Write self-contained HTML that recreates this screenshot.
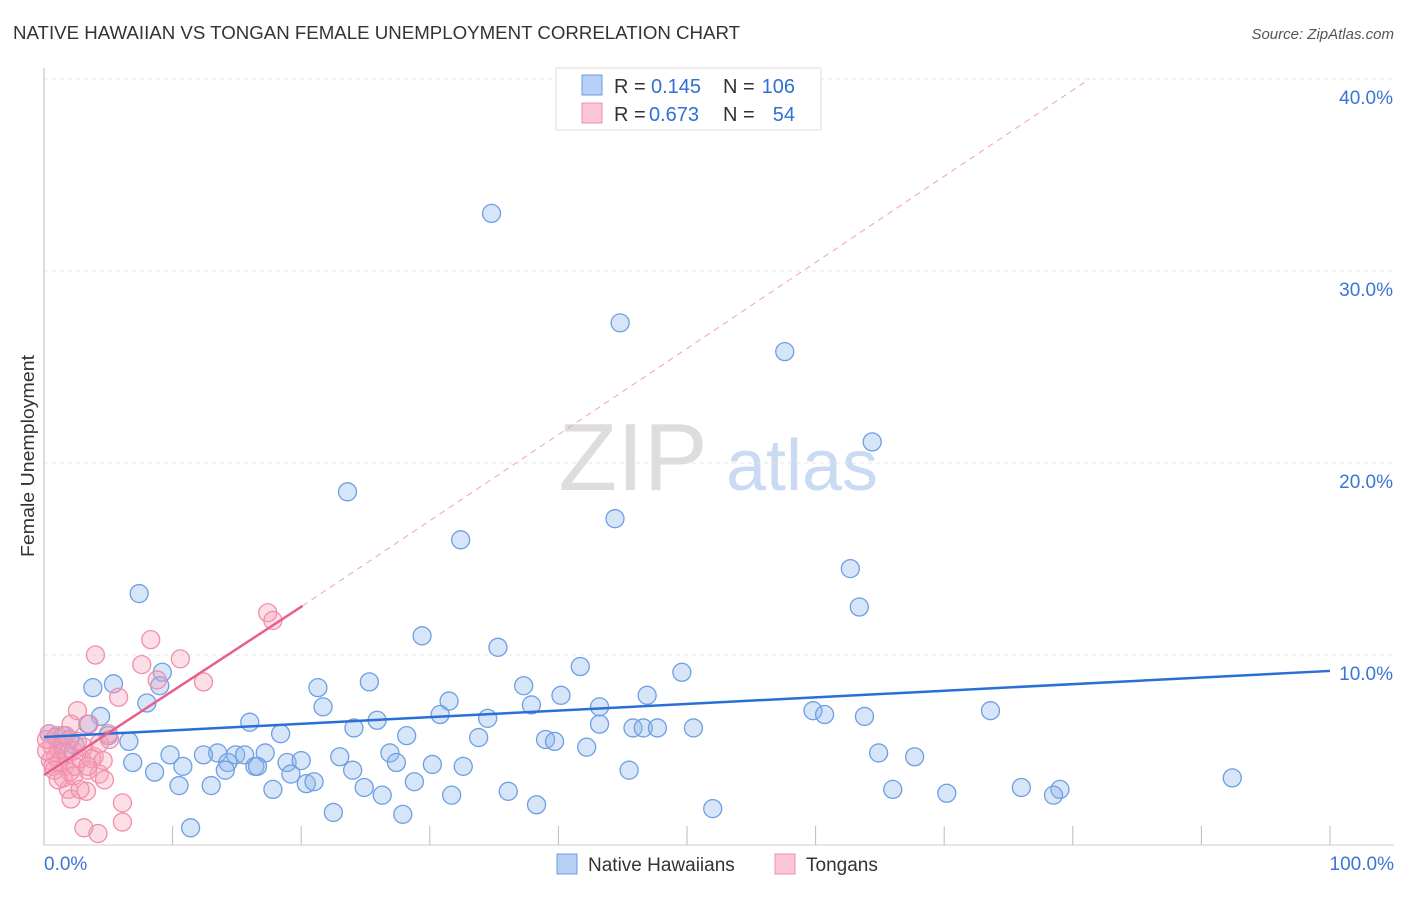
<!DOCTYPE html>
<html><head><meta charset="utf-8"><style>
body{margin:0;background:#fff;font-family:"Liberation Sans",sans-serif;}
svg text{font-family:"Liberation Sans",sans-serif;}
</style></head><body>
<svg id="chart" width="1406" height="892" xmlns="http://www.w3.org/2000/svg">
<text x="13" y="39" font-size="18" fill="#333" textLength="727" lengthAdjust="spacingAndGlyphs">NATIVE HAWAIIAN VS TONGAN FEMALE UNEMPLOYMENT CORRELATION CHART</text>
<text x="1394" y="39" font-size="15" fill="#555" text-anchor="end" font-style="italic">Source: ZipAtlas.com</text>
<text transform="translate(34,456) rotate(-90)" font-size="18" fill="#333" text-anchor="middle" textLength="202" lengthAdjust="spacingAndGlyphs">Female Unemployment</text>
<g>
<text x="633" y="490" font-size="96" fill="#ddd" text-anchor="middle" font-family="Liberation Serif">ZIP</text>
<text x="802" y="490" font-size="72" fill="#c9daf2" text-anchor="middle">atlas</text>
</g>
<g id="grid"></g>
<g id="marks"></g>
<g>
<rect x="556" y="68" width="265" height="62" fill="#fff" stroke="#ddd"/>
<rect x="582" y="75" width="20" height="20" fill="#b7d0f5" stroke="#6a9be0"/>
<rect x="582" y="103" width="20" height="20" fill="#f9c6d4" stroke="#ef8fab"/>
<text x="614" y="93" font-size="20" fill="#333">R =</text>
<text x="651" y="93" font-size="20" fill="#2f6fd6">0.145</text>
<text x="723" y="93" font-size="20" fill="#333">N =</text>
<text x="795" y="93" font-size="20" fill="#2f6fd6" text-anchor="end">106</text>
<text x="614" y="121" font-size="20" fill="#333">R =</text>
<text x="649" y="121" font-size="20" fill="#2f6fd6">0.673</text>
<text x="723" y="121" font-size="20" fill="#333">N =</text>
<text x="795" y="121" font-size="20" fill="#2f6fd6" text-anchor="end">54</text>
</g>
<g>
<rect x="557" y="854" width="20" height="20" fill="#b7d0f5" stroke="#6a9be0"/>
<text x="588" y="871" font-size="19" fill="#333">Native Hawaiians</text>
<rect x="775" y="854" width="20" height="20" fill="#f9c6d4" stroke="#ef8fab"/>
<text x="806" y="871" font-size="19" fill="#333">Tongans</text>
</g>
</svg>
<script>
const yTicks=[10,20,30,40];
const yTickLabels=["10.0%","20.0%","30.0%","40.0%"];
const xTickLabels=["0.0%","100.0%"];
const blueX=[34.8,44.8,57.6,64.4,23.6,44.4,32.4,62.7,7.4,63.4,29.4,35.3,41.7,49.6,9.2,3.8,5.4,9.0,21.3,25.3,37.3,8.0,31.5,40.2,46.9,43.2,21.7,37.9,4.4,30.8,34.5,59.8,60.7,63.8,73.6,3.4,16.0,25.9,43.2,24.1,18.4,28.2,45.8,46.6,47.7,50.5,5.0,6.6,33.8,39.0,39.7,42.2,9.8,13.5,14.9,15.6,17.2,6.9,12.4,18.9,20.0,23.0,26.9,27.4,64.9,67.7,10.8,14.3,16.4,16.6,30.2,32.6,8.6,14.1,19.2,24.0,28.8,45.5,10.5,13.0,20.4,21.0,24.9,17.8,26.3,31.7,36.1,66.0,70.2,76.0,79.0,78.5,92.4,38.3,22.5,27.9,52.0,11.4,0.4,0.9,1.2,1.6,2.4,1.5,2.0];
const blueY=[33.0,27.3,25.8,21.1,18.5,17.1,16.0,14.5,13.2,12.5,11.0,10.4,9.4,9.1,9.1,8.3,8.5,8.4,8.3,8.6,8.4,7.5,7.6,7.9,7.9,7.3,7.3,7.4,6.8,6.9,6.7,7.1,6.9,6.8,7.1,6.4,6.5,6.6,6.4,6.2,5.9,5.8,6.2,6.2,6.2,6.2,5.8,5.5,5.7,5.6,5.5,5.2,4.8,4.9,4.8,4.8,4.9,4.4,4.8,4.4,4.5,4.7,4.9,4.4,4.9,4.7,4.2,4.4,4.2,4.2,4.3,4.2,3.9,4.0,3.8,4.0,3.4,4.0,3.2,3.2,3.3,3.4,3.1,3.0,2.7,2.7,2.9,3.0,2.8,3.1,3.0,2.7,3.6,2.2,1.8,1.7,2.0,1.0,5.9,5.7,5.4,5.0,5.3,5.8,5.6];
const pinkX=[17.4,17.8,8.3,10.6,4.0,7.6,8.8,12.4,5.8,2.6,5.0,2.1,3.5,0.4,0.6,1.1,1.4,1.9,2.3,2.6,3.1,3.9,4.3,0.9,1.2,1.6,2.0,2.4,3.4,4.3,4.7,1.5,1.9,2.1,3.3,6.1,6.1,3.1,4.2,0.5,0.7,0.2,1.0,1.7,2.9,3.7,4.6,0.2,0.8,2.3,1.1,2.8,3.4,5.1];
const pinkY=[12.2,11.8,10.8,9.8,10.0,9.5,8.7,8.6,7.8,7.1,5.9,6.4,6.4,5.9,5.3,5.1,5.4,4.9,5.0,5.5,5.2,4.7,5.4,4.7,4.4,4.2,3.9,4.2,4.0,3.8,3.5,3.6,3.0,2.5,2.9,2.3,1.3,1.0,0.7,4.5,4.2,5.0,5.8,5.8,4.6,4.6,4.5,5.6,4.0,3.7,3.5,3.0,4.2,5.6];
const blueTrend=[5.73,9.17];
const pinkTrend=[3.75,0.438];
const X=v=>44+v*12.86, Y=v=>847-v*19.2;
const NS="http://www.w3.org/2000/svg";
const grid=document.getElementById('grid'),marks=document.getElementById('marks');
function mk(tag,attrs,parent){const e=document.createElementNS(NS,tag);for(const k in attrs)e.setAttribute(k,attrs[k]);parent.appendChild(e);return e;}
yTicks.forEach((t,i)=>{
 const l=mk('line',{x1:44,x2:1394,y1:Y(t),y2:Y(t),stroke:'#e4e4e4','stroke-dasharray':'4,4'},grid);
 
 
 const tx=mk('text',{x:1393,y:Y(t)+25,'font-size':19,fill:'#3a75d6','text-anchor':'end'},grid);
 tx.textContent=yTickLabels[i];
 
 
});
const ax=mk('line',{x1:44,x2:44,y1:68,y2:845,stroke:'#bbb'},grid);


const bx=mk('line',{x1:44,x2:1394,y1:845,y2:845,stroke:'#ccc'},grid);


for(let i=1;i<=10;i++){const t=mk('line',{x1:X(i*10),x2:X(i*10),y1:826,y2:845,stroke:'#bbb'},grid);
 
 }
const xl0=mk('text',{x:44,y:870,'font-size':19,fill:'#3a75d6'},grid);xl0.textContent=xTickLabels[0];


const xl1=mk('text',{x:1394,y:870,'font-size':19,fill:'#3a75d6','text-anchor':'end'},grid);xl1.textContent=xTickLabels[1];


blueX.forEach((v,i)=>{const c=mk('circle',{cx:X(v),cy:Y(blueY[i]),r:9,fill:'rgba(140,180,235,0.35)',stroke:'#6d9fe3','stroke-width':1.3},marks);
 
 });
pinkX.forEach((v,i)=>{const c=mk('circle',{cx:X(v),cy:Y(pinkY[i]),r:9,fill:'rgba(245,160,185,0.35)',stroke:'#f08fab','stroke-width':1.3},marks);
 
 });
const bl=mk('line',{x1:X(0),y1:Y(blueTrend[0]),x2:X(100),y2:Y(blueTrend[1]),stroke:'#2a6fd6','stroke-width':2.5},marks);


const pl=mk('line',{x1:X(0),y1:Y(pinkTrend[0]),x2:X(20.1),y2:Y(pinkTrend[0]+pinkTrend[1]*20.1),stroke:'#e8608a','stroke-width':2.5},marks);


const xe=81.3;
const pd=mk('line',{x1:X(20.1),y1:Y(pinkTrend[0]+pinkTrend[1]*20.1),x2:X(xe),y2:Y(40.0),stroke:'#f0a0b8','stroke-width':1,'stroke-dasharray':'6,5'},marks);


</script>
</body></html>
